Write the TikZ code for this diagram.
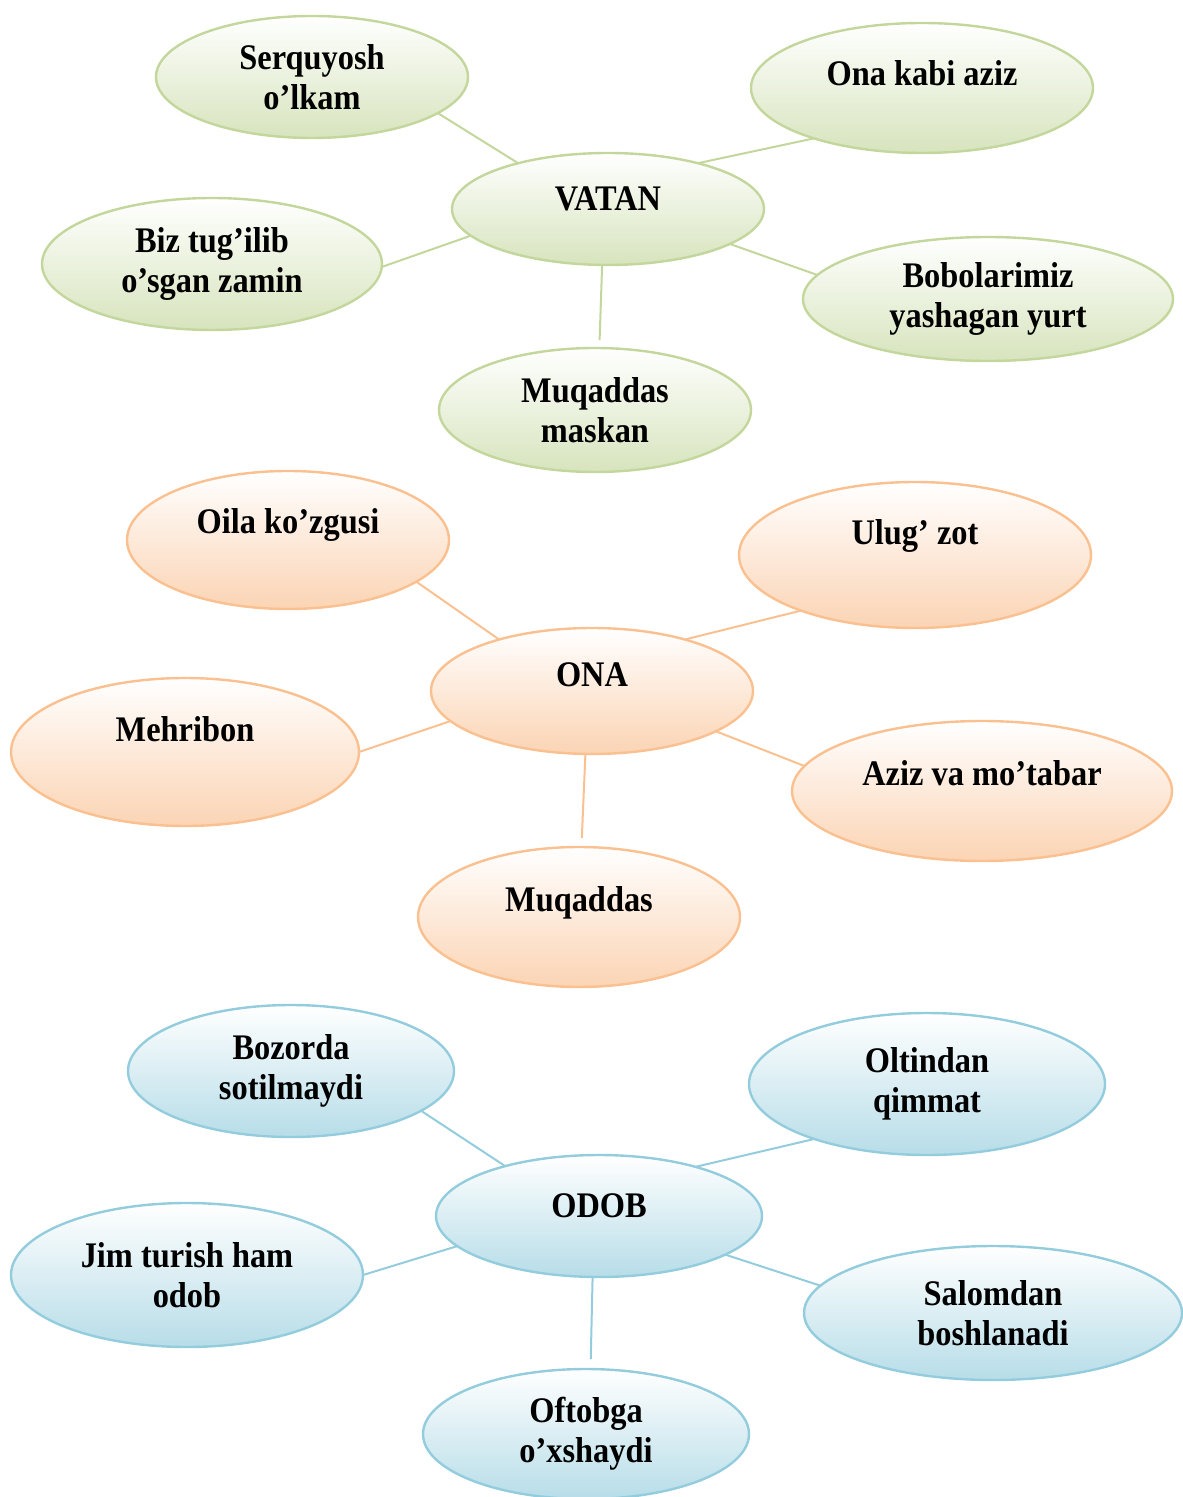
\documentclass[tikz,border=0pt]{standalone}
\usepackage{fontspec}
\setmainfont{Liberation Serif}[FakeStretch=0.9]
\usetikzlibrary{shapes.geometric}
\definecolor{vtnline}{HTML}{C3D69B}
\definecolor{vtnfill}{HTML}{D7E4BD}
\definecolor{onaline}{HTML}{FAC090}
\definecolor{onafill}{HTML}{FBD4B4}
\definecolor{odbline}{HTML}{93CDDD}
\definecolor{odbfill}{HTML}{B7DDE8}
\tikzset{%
   ell/.style={
      ellipse,
      inner sep=0pt,
      outer sep=0pt,
      line width=1.2pt,
      align=center,
      font=\bfseries\fontsize{18}{20}\selectfont
   },
   sz/.style 2 args={
      minimum width=#1pt,
      minimum height=#2pt
   },
   single/.style={
      text depth=#1pt
   },
   vtn/.style={ell, draw=vtnline, top color=white, bottom color=vtnfill},
   ona/.style={ell, draw=onaline, top color=white, bottom color=onafill},
   odb/.style={ell, draw=odbline, top color=white, bottom color=odbfill},
   vtnlnk/.style={draw=vtnline, line width=1pt},
   onalnk/.style={draw=onaline, line width=1pt},
   odblnk/.style={draw=odbline, line width=1pt},
}

\begin{document}
\begin{tikzpicture}[x=0.5pt, y=-0.5pt]
   \useasboundingbox (0,0) rectangle (1182,1497);
   % VATAN
   \node[vtn, sz={156}{61}] (serquyosh) at (312,77) {Serquyosh\\o’lkam};
   \node[vtn, sz={171}{65}, single=15] (onakabi) at (922,88) {Ona kabi aziz};
   \node[vtn, sz={156}{56}, single=10] (vatan) at (608,209) {VATAN};
   \node[vtn, sz={170}{66}] (biz) at (212,264) {Biz tug’ilib\\o’sgan zamin};
   \node[vtn, sz={185}{62}] (bobolar) at (988,299) {Bobolarimiz\\yashagan yurt};
   \node[vtn, sz={156}{62}] (maskan) at (595,410) {Muqaddas\\maskan};
   \path[vtnlnk] (serquyosh.-16) edge (vatan.153)
      (onakabi.205) edge (vatan.27)
      (biz.-1) edge (vatan.191)
      (bobolar.172) edge (vatan.-16)
      (vatan.-96) edge[shorten >=4pt] (maskan.86);
   % ONA
   \node[ona, sz={161}{69}, single=19] (oila) at (288,540) {Oila ko’zgusi};
   \node[ona, sz={176}{73}, single=23] (ulug) at (915,555) {Ulug’ zot};
   \node[ona, sz={161}{63}, single=16] (ona) at (592,691) {ONA};
   \node[ona, sz={174}{74}, single=23] (mehribon) at (185,752) {Mehribon};
   \node[ona, sz={190}{70}, single=18] (aziz) at (982,791) {Aziz va mo’tabar};
   \node[ona, sz={161}{70}, single=18] (muqaddas) at (579,917) {Muqaddas};
   \path[onalnk] (oila.-18) edge (ona.151)
      (ulug.206) edge (ona.29)
      (mehribon.0) edge (ona.192)
      (aziz.172) edge (ona.-18)
      (ona.-96) edge[shorten >=4.5pt] (muqaddas.88);
   % ODOB
   \node[odb, sz={163}{66}] (bozorda) at (291,1071) {Bozorda\\sotilmaydi};
   \node[odb, sz={178}{71}] (oltin) at (927,1084) {Oltindan\\qimmat};
   \node[odb, sz={163}{61}, single=10] (odob) at (599,1216) {ODOB};
   \node[odb, sz={176}{72}] (jim) at (187,1275) {Jim turish ham\\odob};
   \node[odb, sz={189}{67}] (salom) at (993,1313) {Salomdan\\boshlanadi};
   \node[odb, sz={163}{65}] (oftob) at (586,1434) {Oftobga\\o’xshaydi};
   \path[odblnk] (bozorda.-17) edge (odob.152)
      (oltin.206) edge (odob.27)
      (jim.0) edge (odob.192)
      (salom.171) edge (odob.-17)
      (odob.-96) edge[shorten >=5pt] (oftob.86);
\end{tikzpicture}
\end{document}
